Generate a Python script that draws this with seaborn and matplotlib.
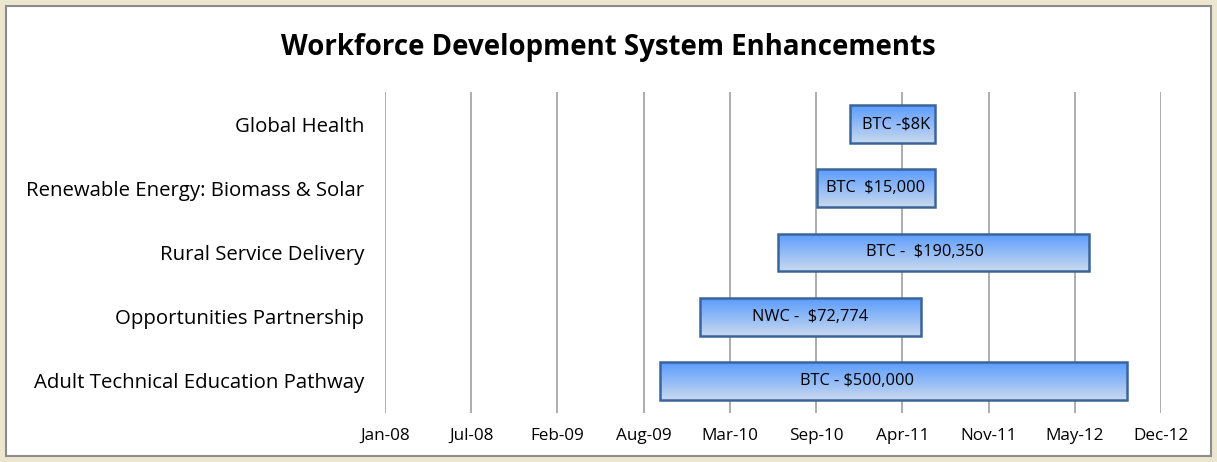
import numpy as np
import pandas as pd
import matplotlib
matplotlib.use("Agg")
import matplotlib.pyplot as plt
import matplotlib.dates as mdates
from matplotlib.colors import LinearSegmentedColormap
import seaborn as sns

# Chart data
tasks = ["Global Health", "Renewable Energy: Biomass & Solar", "Rural Service Delivery",
         "Opportunities Partnership", "Adult Technical Education Pathway"]
starts = ["2010-12-15", "2010-09-28", "2010-07-01", "2010-01-01", "2009-09-30"]
ends = ["2011-06-30", "2011-06-30", "2012-06-22", "2011-05-28", "2012-09-16"]
labels = ["BTC -$8K", "BTC  $15,000", "BTC -  $190,350", "NWC -  $72,774", "BTC - $500,000"]
tick_dates = ["2008-01-01", "2008-07-19", "2009-02-04", "2009-08-23", "2010-03-11",
              "2010-09-27", "2011-04-15", "2011-11-01", "2012-05-19", "2012-12-05"]

df = pd.DataFrame({"task": tasks, "start": pd.to_datetime(starts), "end": pd.to_datetime(ends),
                   "label": labels})
df["start_num"] = mdates.date2num(df["start"])
df["days"] = (df["end"] - df["start"]).dt.days

sns.set_theme(style="white")
plt.rcParams["font.family"] = ["Open Sans", "DejaVu Sans"]

fig = plt.figure(figsize=(12.17, 4.62), dpi=100)
fig.patch.set_facecolor("#ece6cf")
# white chart area with grey border
fig.patches.append(plt.Rectangle((6 / 1217, 1 - 456 / 462), 1205 / 1217, 450 / 462,
                                 transform=fig.transFigure, facecolor="white",
                                 edgecolor="#8c8c8c", linewidth=1.5, zorder=-5))

ax = fig.add_axes([385 / 1217, 1 - 413 / 462, 776 / 1217, 321 / 462])
ax.set_facecolor("none")

sns.barplot(data=df, x="days", y="task", left=df["start_num"].values, orient="y", errorbar=None,
            width=0.59, color="#5a9cff", facecolor="none", edgecolor="#3b6499", linewidth=1.8,
            ax=ax, zorder=3)

# gradient fill clipped to each bar
cmap = LinearSegmentedColormap.from_list("bar", ["#5a9cff", "#c9d9ee"])
grad = np.linspace(0, 1, 256).reshape(-1, 1)
for bar in ax.patches:
    x0, y0 = bar.get_x(), bar.get_y()
    w, h = bar.get_width(), bar.get_height()
    im = ax.imshow(grad, cmap=cmap, aspect="auto", extent=(x0, x0 + w, y0 + h, y0),
                   origin="upper", zorder=2)
    im.set_clip_path(bar)

# bar text, nudged like the original labels
shift = [0.04, 0.0, -0.03, 0.0, -0.077]
for i, row in df.iterrows():
    cx = row["start_num"] + row["days"] * (0.5 + shift[i])
    ax.text(cx, i, row["label"], ha="center", va="center", fontsize=11.8, color="black", zorder=4)

tick_nums = mdates.date2num(pd.to_datetime(tick_dates))
ax.set_xlim(tick_nums[0], tick_nums[-1])
ax.set_ylim(4.5, -0.5)
ax.set_xticks(tick_nums)
ax.xaxis.set_major_formatter(mdates.DateFormatter("%b-%y"))
ax.grid(axis="x", color="#a0a0a0", linewidth=1.2, zorder=1)
ax.set_axisbelow(True)
for s in ax.spines.values():
    s.set_visible(False)
ax.tick_params(axis="x", labelsize=12.3, pad=11, length=0, labelcolor="black")
ax.tick_params(axis="y", labelsize=14.7, pad=15, length=0, labelcolor="black")
ax.set_xlabel("")
ax.set_ylabel("")

fig.text(0.5, 1 - 47 / 462, "Workforce Development System Enhancements", ha="center",
         va="center", fontsize=19.9, fontweight="bold", color="black")

fig.savefig("out.png", dpi=100, facecolor=fig.get_facecolor())
